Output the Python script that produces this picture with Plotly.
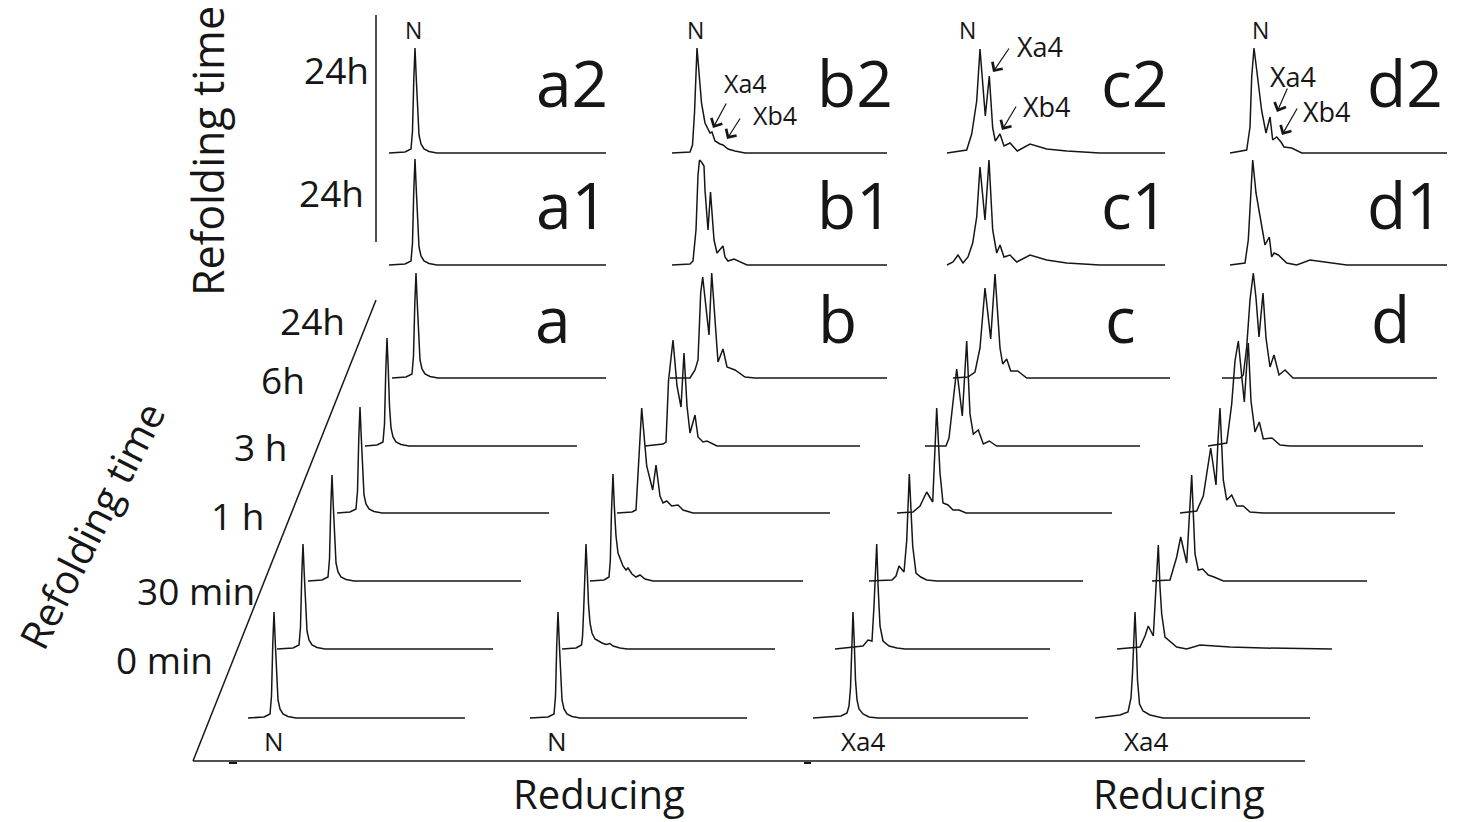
import plotly.graph_objects as go

# ---------------------------------------------------------------------------
# DATA: chromatograms as (retention time [min], absorbance [mAU])
# ---------------------------------------------------------------------------
TIME_LABELS = ["0 min", "30 min", "1 h", "3 h", "6h", "24h"]
TOP_TIME_LABELS = ["24h", "24h"]
PANEL_LABELS = {"a": ["a", "a1", "a2"], "b": ["b", "b1", "b2"],
                "c": ["c", "c1", "c2"], "d": ["d", "d1", "d2"]}
START_SPECIES = ["N", "N", "Xa4", "Xa4"]

# column a (start from N)
A_0MIN = [(0,0),(1.6,1),(2.2,4),(2.35,22),(2.48,75),(2.6,106),(2.73,75),(2.85,40),(3.0,18),(3.2,9),(3.5,4),(4.0,1.5),(4.8,0),(21.7,0)]
A_30MIN = [(0,0),(1.6,1),(2.2,4),(2.35,22),(2.48,75),(2.6,105),(2.73,74),(2.85,40),(3.0,18),(3.2,9),(3.5,4),(4.0,1.5),(4.8,0),(21.6,0)]
A_1H = [(0,0),(1.4,1),(2.0,4),(2.15,22),(2.28,75),(2.4,106),(2.53,75),(2.65,40),(2.8,18),(3.0,9),(3.3,4),(3.8,1.5),(4.6,0),(21.3,0)]
A_3H = [(0,0),(1.3,1),(1.9,4),(2.05,22),(2.18,75),(2.3,106),(2.43,75),(2.55,40),(2.7,18),(2.9,9),(3.2,4),(3.7,1.5),(4.5,0),(21.2,0)]
A_6H = [(0,0),(1.2,1),(1.8,4),(1.95,22),(2.08,76),(2.2,108),(2.33,76),(2.45,40),(2.6,18),(2.8,9),(3.1,4),(3.6,1.5),(4.4,0),(21.2,0)]
A_24H = [(0,0),(1.4,1),(2.0,4),(2.15,22),(2.28,74),(2.4,105),(2.53,74),(2.65,40),(2.8,18),(3.0,9),(3.3,4),(3.8,1.5),(4.6,0),(21.4,0)]
A1_24H = [(0,0),(1.6,1),(2.2,4),(2.35,22),(2.48,75),(2.6,106),(2.73,75),(2.85,40),(3.0,18),(3.2,9),(3.5,4),(4.0,1.5),(4.8,0),(21.7,0)]
A2_24H = [(0,0),(1.6,1),(2.2,4),(2.35,22),(2.48,74),(2.6,105),(2.73,74),(2.85,40),(3.0,18),(3.2,9),(3.5,4),(4.0,1.5),(4.8,0),(21.7,0)]

# column b (start from N)
B_0MIN = [(0,0),(1.8,1),(2.4,4),(2.55,22),(2.68,75),(2.8,106),(2.93,75),(3.05,40),(3.2,18),(3.4,9),(3.7,4),(4.2,1.5),(5.0,0),(21.7,0)]
B_30MIN = [(0,0),(1.4,1),(1.95,4),(2.05,12),(2.17,40),(2.28,80),(2.4,105),(2.52,78),(2.65,45),(2.8,26),(3.0,16),(3.3,10),(3.6,8),(4.0,6),(4.4,4.5),(4.8,5.5),(5.1,3),(5.8,1),(6.5,0),(21.3,0)]
B_1H = [(0,0),(1.4,1),(1.9,4),(2.03,20),(2.15,70),(2.3,107),(2.43,75),(2.6,45),(2.8,28),(3.3,15),(3.6,11),(3.8,13),(4.2,7),(4.6,4),(5.0,6),(5.5,2),(6.3,0),(21.3,0)]
B_3H = [(0,0),(1.5,1),(1.9,3),(2.1,40),(2.47,105),(2.97,47),(3.57,23),(3.9,48),(4.3,17),(4.6,10),(4.97,12),(5.47,7),(6.1,8),(6.6,3),(7.6,0),(21.3,0)]
B_6H = [(0,0),(1.8,2),(2.1,4),(2.35,65),(2.8,106),(3.2,60),(3.6,39),(3.9,93),(4.2,40),(4.5,13),(5.0,31),(5.3,9),(5.8,4),(6.2,5),(7.2,0),(21.5,0)]
B_24H = [(0,0),(2.0,0),(2.5,8),(2.8,18),(3.07,85),(3.27,101),(3.9,43),(4.17,105),(4.8,16),(5.3,29),(5.7,11),(6.5,8),(7.5,1),(8.5,0),(21.7,0)]
B1_24H = [(0,0),(1.8,1),(2.1,4),(2.4,35),(2.6,90),(2.75,105),(2.95,103),(3.2,99),(3.3,75),(3.5,52),(3.6,35),(3.85,73),(4.2,25),(4.5,12),(5.1,19),(5.3,8),(5.6,4),(6.2,6),(7.5,0),(21.5,0)]
B2_24H = [(0,0),(1.8,1),(2.05,8),(2.25,40),(2.5,105),(2.7,80),(2.95,50),(3.3,30),(3.8,20),(4.0,21),(4.3,12),(4.8,9),(5.1,8),(5.6,4),(6.3,2),(7.3,0),(21.5,0)]

# column c (start from Xa4)
C_0MIN = [(0,0),(2.8,2),(3.4,5),(3.6,12),(3.75,30),(3.88,80),(4.0,106),(4.13,75),(4.25,38),(4.4,18),(4.6,9),(5.0,4),(5.6,1),(6.5,0),(21.5,0)]
C_30MIN = [(0,0),(2.8,3),(3.3,9),(3.7,8),(3.9,43),(4.17,105),(4.32,60),(4.5,23),(4.8,8),(5.1,5),(5.4,3),(6.2,1),(7.0,0),(21.5,0)]
C_1H = [(0,0),(2.3,1),(2.7,5),(3.0,15),(3.5,9),(3.77,40),(4.03,107),(4.2,65),(4.37,35),(4.7,8),(5.17,4),(5.77,1),(6.8,0),(21.4,0)]
C_3H = [(0,0),(1.6,1),(2.3,7),(2.97,21),(3.57,11),(3.77,56),(3.97,105),(4.3,40),(4.6,10),(5.1,8),(5.6,3),(6.2,3),(6.9,0),(21.5,0)]
C_6H = [(0,0),(2.1,0),(2.4,8),(2.67,32),(3.17,77),(3.73,30),(4.17,105),(4.5,32),(4.83,12),(5.33,16),(5.83,2),(6.43,5),(7.17,0),(21.5,0)]
C_24H = [(0,0),(1.5,1),(2.2,6),(2.7,30),(3.2,90),(3.77,39),(4.2,104),(4.7,30),(4.97,14),(5.37,19),(5.77,7),(6.47,7),(7.37,0),(21.7,0)]
C1_24H = [(0,0),(0.6,3),(1.1,10),(1.6,2),(2.1,8),(2.57,22),(2.97,48),(3.3,98),(3.8,45),(4.2,105),(4.57,35),(4.97,12),(5.3,20),(5.7,8),(6.3,10),(6.97,3),(8.3,10),(9.97,5),(11.97,2),(15.3,0),(21.8,0)]
C2_24H = [(0,0),(1.97,3),(2.47,19),(2.7,35),(2.97,52),(3.3,104),(3.83,37),(4.23,77),(4.57,25),(4.83,12),(5.3,19),(5.7,7),(6.3,10),(7.03,2),(8.3,9),(9.97,4),(11.97,2),(15.3,0),(21.8,0)]

# column d (start from Xa4)
D_0MIN = [(0,0),(2.5,3),(3.3,6),(3.6,20),(3.75,45),(3.88,85),(4.0,106),(4.13,75),(4.25,38),(4.45,14),(4.8,7),(5.5,3),(6.8,0),(21.5,0)]
D_30MIN = [(0,0),(2.3,2),(2.8,13),(3.13,23),(3.63,13),(3.9,58),(4.13,104),(4.3,62),(4.47,35),(4.8,12),(5.23,8),(5.97,2),(6.97,0),(8.3,4),(11.3,2),(14.6,1),(21.5,0)]
D_1H = [(0,0),(1.8,1),(2.47,24),(2.87,44),(3.47,18),(3.73,58),(3.97,106),(4.3,27),(4.63,11),(5.07,12),(5.63,6),(6.2,4),(7.13,0),(21.5,0)]
D_3H = [(0,0),(1.67,2),(2.33,17),(2.83,53),(3.07,65),(3.33,47),(3.6,28),(3.8,73),(4.0,105),(4.33,33),(4.67,13),(5.17,18),(5.67,7),(6.33,7),(7.0,1),(8.3,0),(21.5,0)]
D_6H = [(0,0),(1.87,3),(2.37,42),(2.7,85),(3.03,105),(3.4,70),(3.63,44),(3.9,85),(4.03,103),(4.3,45),(4.7,14),(5.13,24),(5.53,7),(6.4,8),(7.2,1),(8.2,0),(21.5,0)]
D_24H = [(0,0),(1.8,0),(2.13,3),(2.47,31),(2.8,78),(3.13,105),(3.4,80),(3.7,41),(4.1,85),(4.4,40),(4.8,11),(5.2,23),(5.7,3),(6.3,8),(7.1,0),(21.5,0)]
D1_24H = [(0,0),(1.5,2),(1.83,25),(2.07,72),(2.27,105),(2.6,72),(3.0,48),(3.5,20),(3.93,28),(4.17,8),(4.4,12),(4.83,10),(5.67,2),(6.67,0),(8.0,5),(10.0,2),(11.67,0),(21.7,0)]
D2_24H = [(0,0),(1.67,3),(2.0,26),(2.17,76),(2.4,105),(2.73,76),(3.17,42),(3.6,20),(4.0,36),(4.27,13),(4.67,16),(5.1,11),(5.4,6),(6.17,5),(7.17,0),(21.7,0)]

# ---------------------------------------------------------------------------
# LAYOUT (stacking offsets of the waterfall, in page pixels)
# ---------------------------------------------------------------------------
W, H = 1460, 822
PX_PER_MIN = 10.0
PX_PER_MAU = 1.0
COLUMNS = ["a", "b", "c", "d"]
TRACES = {
    "a": [A_0MIN, A_30MIN, A_1H, A_3H, A_6H, A_24H, A1_24H, A2_24H],
    "b": [B_0MIN, B_30MIN, B_1H, B_3H, B_6H, B_24H, B1_24H, B2_24H],
    "c": [C_0MIN, C_30MIN, C_1H, C_3H, C_6H, C_24H, C1_24H, C2_24H],
    "d": [D_0MIN, D_30MIN, D_1H, D_3H, D_6H, D_24H, D1_24H, D2_24H],
}
TRACE_X0 = {
    "a": [248, 277, 308, 337, 365, 392, 389, 389],
    "b": [530, 562, 590, 617, 645, 670, 672, 672],
    "c": [813, 835, 869, 897, 925, 953, 947, 947],
    "d": [1095, 1117, 1152, 1180, 1208, 1222, 1230, 1230],
}
BASELINES = [718, 649, 581, 513, 446, 378, 265, 153]

INK = "#161616"
FONT = "Open Sans"

fig = go.Figure()
for col in COLUMNS:
    for k, tr in enumerate(TRACES[col]):
        x0 = TRACE_X0[col][k]
        yb = BASELINES[k]
        fig.add_trace(go.Scatter(
            x=[x0 + t * PX_PER_MIN for t, a in tr],
            y=[yb - a * PX_PER_MAU for t, a in tr],
            mode="lines", line=dict(color=INK, width=1.5),
            hoverinfo="skip", showlegend=False))

ann = []


def txt(x, y, s, size, angle=0):
    ann.append(dict(x=x, y=y, xref="x", yref="y", text=s, showarrow=False,
                    textangle=angle, xanchor="center", yanchor="middle",
                    font=dict(family=FONT, size=size, color=INK)))


# axis titles
txt(207, 151, "Refolding time", 43, -90)
txt(91, 525, "Refolding time", 40, -63)
txt(599, 793, "Reducing", 40)
txt(1179, 793, "Reducing", 40)

# waterfall time labels
TIME_POS = [(164, 659), (196, 590), (237, 515), (260, 446), (283, 379), (312, 320)]
for s, (x, y) in zip(TIME_LABELS, TIME_POS):
    txt(x, y, s, 37)
for s, (x, y) in zip(TOP_TIME_LABELS, [(336, 69), (331, 192)]):
    txt(x, y, s, 37)

# big panel labels
PANEL_X = {"a": (553, 572), "b": (837, 855), "c": (1120, 1134), "d": (1390, 1405)}
for col in COLUMNS:
    labs = PANEL_LABELS[col]
    txt(PANEL_X[col][0], 318, labs[0], 64)
    txt(PANEL_X[col][1], 204, labs[1], 64)
    txt(PANEL_X[col][1], 82, labs[2], 64)

# species labels
for x in (413, 695, 967, 1260):
    txt(x, 30, "N", 23)
for s, x in zip(START_SPECIES, (274, 557, 863, 1146)):
    txt(x, 741, s, 26)

# Xa4 / Xb4 annotations with arrows
ARROW_TEXT = [("Xa4", 745, 83), ("Xb4", 775, 115),
              ("Xa4", 1040, 46), ("Xb4", 1047, 106),
              ("Xa4", 1293, 76), ("Xb4", 1327, 111)]
for s, x, y in ARROW_TEXT:
    txt(x, y, s, 25 if x < 800 else 27)
ARROWS = [((727, 102), (713, 128)), ((741, 117), (727, 139)),
          ((1010, 47), (993, 72)), ((1017, 105), (1002, 130)),
          ((1288, 87), (1277, 112)), ((1298, 107), (1282, 135))]
for (tx, ty), (hx, hy) in ARROWS:
    ann.append(dict(x=hx, y=hy, ax=tx, ay=ty, xref="x", yref="y",
                    axref="x", ayref="y", text="", showarrow=True,
                    arrowhead=4, arrowsize=2.0, arrowwidth=1.2, arrowcolor=INK))

shapes = [
    dict(type="line", x0=376, y0=15, x1=376, y1=242, line=dict(color=INK, width=1.5)),
    dict(type="line", x0=193, y0=761, x1=376, y1=300, line=dict(color=INK, width=1.5)),
    dict(type="line", x0=193, y0=761, x1=1305, y1=761, line=dict(color=INK, width=1.5)),
    dict(type="line", x0=229, y0=763, x1=237, y1=763, line=dict(color=INK, width=2)),
    dict(type="line", x0=804, y0=763, x1=811, y1=763, line=dict(color=INK, width=2)),
]

fig.update_layout(
    width=W, height=H, margin=dict(l=0, r=0, t=0, b=0),
    paper_bgcolor="white", plot_bgcolor="white", showlegend=False,
    xaxis=dict(range=[0, W], visible=False, fixedrange=True),
    yaxis=dict(range=[H, 0], visible=False, fixedrange=True),
    annotations=ann, shapes=shapes,
)
fig.write_html("out.html", config={"displayModeBar": False},
               post_script="document.body.style.margin='0';"
                           "document.body.style.overflow='hidden';")
